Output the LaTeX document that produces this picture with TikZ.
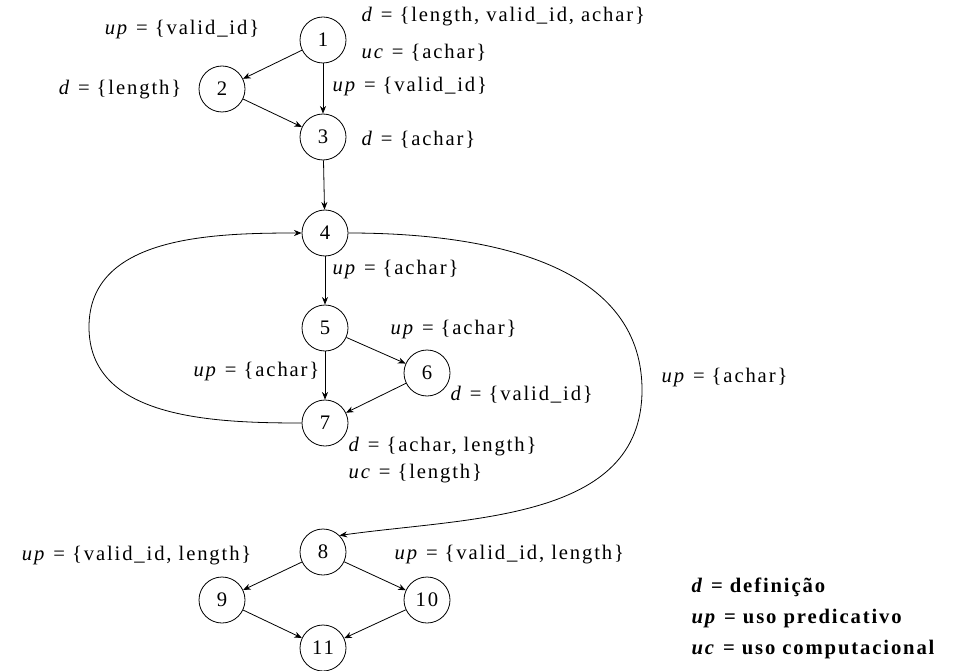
\documentclass[tikz,border=0pt]{standalone}
\usepackage{fontspec}
\setmainfont{Liberation Serif}[LetterSpace=9]
\usetikzlibrary{arrows.meta}
\newcommand{\useset}[2]{\textit{#1} = \{#2\}}

\begin{document}
\begin{tikzpicture}[
    x=0.75pt, y=-0.75pt,
    font=\fontsize{15.5}{18}\selectfont,
    vtx/.style={draw, circle, minimum size=34.5pt, inner sep=0pt, line width=0.6pt},
    lbl/.style={inner sep=1pt},
    arr/.style={-{Stealth[length=2mm, width=1.6mm]}, line width=0.6pt}]

  \useasboundingbox (0,0) rectangle (962,670);

  % vertices of the flow graph
  \foreach \n/\x/\y in {1/323/40, 2/222/89, 3/323/137, 4/325/233, 5/325/328,
      6/427/373, 7/325/423, 8/323/552, 9/222/600, 10/427/600, 11/323/648}
    \node[vtx] (n\n) at (\x,\y) {\n};

  \foreach \a/\b in {1/2, 1/3, 2/3, 3/4, 4/5, 5/6, 5/7, 6/7, 8/9, 8/10, 9/11, 10/11}
    \draw[arr] (n\a) -- (n\b);

  % loop back and exit of the loop
  \coordinate (lft) at (89,327);
  \coordinate (rgt) at (642,390);
  \draw[arr] (n7.west) to[out=180, in=-90] (lft) to[out=90, in=180] (n4.west);
  \draw[arr] (n4.east) to[out=0, in=90] (rgt) to[out=-90, in=8] (n8.north east);

  % definitions and uses
  \node[lbl] (l1a) at (182,30) {\useset{up}{valid\_id}};
  \node[lbl, anchor=west] (l1b) at (360,17) {\useset{d}{length, valid\_id, achar}};
  \node[lbl, anchor=west] (l1c) at (360,53) {\useset{uc}{achar}};
  \node[lbl] (l2) at (120,90) {\useset{d}{length}};
  \node[lbl, anchor=west] (l13) at (331,87) {\useset{up}{valid\_id}};
  \node[lbl, anchor=west] (l3) at (360,140) {\useset{d}{achar}};
  \node[lbl, anchor=west] (l45) at (331,270) {\useset{up}{achar}};
  \node[lbl, anchor=west] (l56) at (389,330) {\useset{up}{achar}};
  \node[lbl, anchor=east] (l57) at (321,372) {\useset{up}{achar}};
  \node[lbl, anchor=west] (l6) at (449,395) {\useset{d}{valid\_id}};
  \node[lbl, anchor=west] (l7a) at (347,447) {\useset{d}{achar, length}};
  \node[lbl, anchor=west] (l7b) at (347,474) {\useset{uc}{length}};
  \node[lbl, anchor=west] (l48) at (660,378) {\useset{up}{achar}};
  \node[lbl, anchor=east] (l89) at (253,556) {\useset{up}{valid\_id, length}};
  \node[lbl, anchor=west] (l810) at (393,555) {\useset{up}{valid\_id, length}};

  % key
  \node[lbl, anchor=north west, align=left,
    font=\bfseries\fontsize{15.5}{23.25}\selectfont] (key) at (690,576)
    {\textit{d} = definição\\ \textit{up} = uso predicativo\\ \textit{uc} = uso computacional};
\end{tikzpicture}
\end{document}
